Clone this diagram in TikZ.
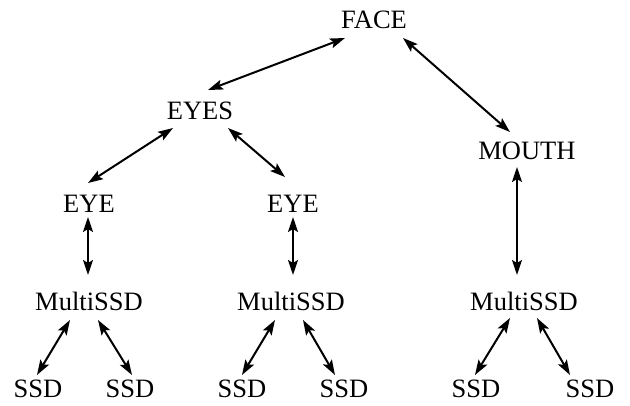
\documentclass[tikz,border=0pt]{standalone}
\usepackage{fontspec}
\setmainfont{Liberation Serif}
\usetikzlibrary{arrows.meta}

\begin{document}
\begin{tikzpicture}[inner sep=0pt,minimum size=0mm,x=1pt,y=1pt,
  every node/.style={font=\fontsize{26.5}{30}\selectfont},
  link/.style={line width=2pt,{Stealth[length=15pt,width=10pt,inset=3pt]}-{Stealth[length=15pt,width=10pt,inset=3pt]}}]

\useasboundingbox (0,0) rectangle (630,405);

\node (face) at (374,385) {FACE};
\node (eyes) at (200,294) {EYES};
\node (mouth) at (527,254) {MOUTH};

\node (eyel) at (89,201) {EYE};
\node (eyer) at (293,201) {EYE};

\node (multil) at (89,104) {MultiSSD};
\node (multim) at (291,104) {MultiSSD};
\node (multir) at (524,104) {MultiSSD};

\node (ssda) at (38,16) {SSD};
\node (ssdb) at (130,16) {SSD};
\node (ssdc) at (242,16) {SSD};
\node (ssdd) at (344,16) {SSD};
\node (ssde) at (476,16) {SSD};
\node (ssdf) at (590,16) {SSD};

\draw[link] ([xshift=-29pt,yshift=-18pt]face.center) -- ([xshift=8pt,yshift=21pt]eyes.center);
\draw[link] ([xshift=29pt,yshift=-18pt]face.center) -- ([xshift=-17pt,yshift=19pt]mouth.center);

\draw[link] ([xshift=-27pt,yshift=-17pt]eyes.center) -- ([xshift=-1pt,yshift=21pt]eyel.center);
\draw[link] ([xshift=28pt,yshift=-17pt]eyes.center) -- ([xshift=-8pt,yshift=27pt]eyer.center);

\draw[link] ([xshift=-1pt,yshift=-13pt]eyel.center) -- ([xshift=-1pt,yshift=26pt]multil.center);
\draw[link] ([yshift=-13pt]eyer.center) -- ([xshift=2pt,yshift=26pt]multim.center);
\draw[link] ([xshift=-10pt,yshift=-16pt]mouth.center) -- ([xshift=-7pt,yshift=26pt]multir.center);

\draw[link] ([xshift=-19pt,yshift=-19pt]multil.center) -- ([xshift=-1pt,yshift=14pt]ssda.center);
\draw[link] ([xshift=9pt,yshift=-19pt]multil.center) -- ([xshift=2pt,yshift=14pt]ssdb.center);
\draw[link] ([xshift=-16pt,yshift=-19pt]multim.center) -- ([yshift=14pt]ssdc.center);
\draw[link] ([xshift=12pt,yshift=-19pt]multim.center) -- ([xshift=-9pt,yshift=14pt]ssdd.center);
\draw[link] ([xshift=-14pt,yshift=-17pt]multir.center) -- ([xshift=-1pt,yshift=14pt]ssde.center);
\draw[link] ([xshift=13pt,yshift=-17pt]multir.center) -- ([xshift=-20pt,yshift=14pt]ssdf.center);

\end{tikzpicture}
\end{document}
